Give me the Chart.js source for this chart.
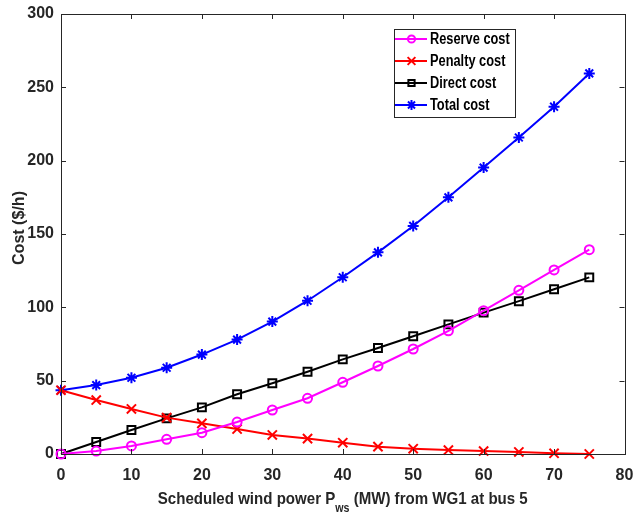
<!DOCTYPE html>
<html>
<head>
<meta charset="utf-8">
<script src="https://cdn.jsdelivr.net/npm/chart.js@4/dist/chart.umd.min.js"></script>
<style>
  html, body { margin: 0; padding: 0; background: #fff; }
  #wrap { width: 633px; height: 518px; }
</style>
</head>
<body>
<div id="wrap"><canvas id="c" width="633" height="518"></canvas></div>
<script>
// Scheduled wind power (MW)
const windPower = [0, 5, 10, 15, 20, 25, 30, 35, 40, 45, 50, 55, 60, 65, 70, 75];
// Cost components ($/h)
const reserveCost = [0, 2, 5.5, 10, 14.5, 21.8, 30, 38, 48.9, 60, 71.6, 84, 97.7, 111.6, 125.5, 139.3];
const penaltyCost = [43.5, 36.8, 30.7, 24.8, 20.9, 17, 13, 10.5, 7.7, 5, 3.6, 2.7, 2, 1.4, 0.5, 0];
const directCost = [0, 8.2, 16.4, 24.3, 31.8, 40.7, 48.2, 56.1, 64.5, 72.3, 80.3, 88.4, 96.4, 104.2, 112.3, 120.4];
const totalCost = [43.5, 47, 52, 58.8, 67.8, 78, 90.3, 104.5, 120.5, 137.5, 155.5, 175, 195.3, 215.8, 236.8, 259.5];
const seriesNames = ['Reserve cost', 'Penalty cost', 'Direct cost', 'Total cost'];
const xTicks = [0, 10, 20, 30, 40, 50, 60, 70, 80];
const yTicks = [0, 50, 100, 150, 200, 250, 300];

const FONT = '"Liberation Sans", Arial, sans-serif';
const TEXT = '#262626';

function series(values) {
  return values.map((v, i) => ({ x: windPower[i], y: v }));
}

const datasets = [
  { label: seriesNames[0], data: series(reserveCost), borderColor: '#ff00ff', pointStyle: 'circle', pointRadius: 4.5, legendRadius: 3.6 },
  { label: seriesNames[1], data: series(penaltyCost), borderColor: '#ff0000', pointStyle: 'crossRot', pointRadius: 6.5, legendRadius: 5.5 },
  { label: seriesNames[2], data: series(directCost), borderColor: '#000000', pointStyle: 'rect', pointRadius: 5.6, legendRadius: 4.4 },
  { label: seriesNames[3], data: series(totalCost), borderColor: '#0000ff', pointStyle: 'star', pointRadius: 5.5, legendRadius: 5 }
].map(d => Object.assign(d, {
  backgroundColor: 'rgba(0,0,0,0)',
  pointBackgroundColor: 'rgba(0,0,0,0)',
  pointBorderColor: d.borderColor,
  borderWidth: 2,
  pointBorderWidth: 2,
  tension: 0,
  clip: false
}));

// Draw a text run squeezed horizontally to a narrow face
function narrowText(ctx, text, x, y, sx) {
  ctx.save();
  ctx.translate(x, y);
  ctx.scale(sx, 1);
  ctx.fillText(text, 0, 0);
  ctx.restore();
}

// Box around the axes, inward tick marks, legend box and axis titles
const framePlugin = {
  id: 'frame',
  afterDatasetsDraw(chart) {
    const { ctx, chartArea: a, scales } = chart;
    const xs = scales.x, ys = scales.y;
    ctx.save();
    ctx.strokeStyle = TEXT;
    ctx.lineWidth = 1;
    ctx.strokeRect(Math.round(a.left) + 0.5, Math.round(a.top) + 0.5,
                   Math.round(a.right - a.left), Math.round(a.bottom - a.top));
    const tl = 5;
    ctx.beginPath();
    xTicks.forEach(v => {
      const px = Math.round(xs.getPixelForValue(v)) + 0.5;
      ctx.moveTo(px, a.bottom); ctx.lineTo(px, a.bottom - tl);
      ctx.moveTo(px, a.top); ctx.lineTo(px, a.top + tl);
    });
    yTicks.forEach(v => {
      const py = Math.round(ys.getPixelForValue(v)) + 0.5;
      ctx.moveTo(a.left, py); ctx.lineTo(a.left + tl, py);
      ctx.moveTo(a.right, py); ctx.lineTo(a.right - tl, py);
    });
    ctx.stroke();

    // legend
    const lx = 394, ly = 29, lw = 121, lh = 88;
    ctx.fillStyle = '#fff';
    ctx.fillRect(lx, ly, lw, lh);
    ctx.strokeStyle = TEXT;
    ctx.strokeRect(lx + 0.5, ly + 0.5, lw, lh);
    ctx.textBaseline = 'middle';
    ctx.textAlign = 'left';
    chart.data.datasets.forEach((ds, i) => {
      const y = ly + 10 + i * 22;
      ctx.strokeStyle = ds.borderColor;
      ctx.lineWidth = 2;
      ctx.beginPath();
      ctx.moveTo(lx + 1, y); ctx.lineTo(lx + 33, y);
      ctx.stroke();
      ctx.fillStyle = 'rgba(0,0,0,0)';
      Chart.helpers.drawPoint(ctx, {
        pointStyle: ds.pointStyle, radius: ds.legendRadius, rotation: 0,
        borderWidth: 2
      }, lx + 17.5, y);
      ctx.fillStyle = '#000';
      ctx.font = 'bold 16px ' + FONT;
      narrowText(ctx, ds.label, lx + 36, y + 1, 0.8);
    });

    // x-axis title with subscript
    const cx = (a.left + a.right) / 2;
    const parts = [
      { t: 'Scheduled wind power P', f: 'bold 17px ' + FONT, dy: 0 },
      { t: 'ws', f: 'bold 12px ' + FONT, dy: 8 },
      { t: ' (MW) from WG1 at bus 5', f: 'bold 17px ' + FONT, dy: 0 }
    ];
    const targetW = 370;
    let total = 0;
    parts.forEach(p => { ctx.font = p.f; p.w = ctx.measureText(p.t).width; total += p.w; });
    const sx = targetW / total;
    let x = cx - targetW / 2;
    ctx.fillStyle = TEXT;
    ctx.textBaseline = 'alphabetic';
    parts.forEach(p => { ctx.font = p.f; narrowText(ctx, p.t, x, 504 + p.dy, sx); x += p.w * sx; });

    // y-axis title
    ctx.save();
    ctx.translate(24, 228);
    ctx.rotate(-Math.PI / 2);
    ctx.font = 'bold 16px ' + FONT;
    const yw = ctx.measureText('Cost ($/h)').width;
    ctx.scale(74 / yw, 1);
    ctx.textAlign = 'center';
    ctx.fillText('Cost ($/h)', 0, 0);
    ctx.restore();
    ctx.restore();
  }
};

new Chart(document.getElementById('c'), {
  type: 'line',
  data: { datasets },
  options: {
    responsive: false,
    animation: false,
    events: [],
    layout: { padding: { top: 14, right: 7, left: 0, bottom: 0 } },
    plugins: { legend: { display: false }, tooltip: { enabled: false } },
    scales: {
      x: {
        type: 'linear', min: 0, max: 80,
        afterBuildTicks: s => { s.ticks = xTicks.map(v => ({ value: v })); },
        afterFit: s => { s.height = 64; s.paddingLeft = 0; s.paddingRight = 0; },
        grid: { display: false, drawTicks: false },
        border: { display: false },
        ticks: { color: TEXT, padding: 12, maxRotation: 0, font: { family: FONT, size: 16, weight: 'bold' } }
      },
      y: {
        type: 'linear', min: 0, max: 300,
        afterBuildTicks: s => { s.ticks = yTicks.map(v => ({ value: v })); },
        afterFit: s => { s.width = 61; s.paddingTop = 0; s.paddingBottom = 0; },
        grid: { display: false, drawTicks: false },
        border: { display: false },
        ticks: { color: TEXT, padding: 7, font: { family: FONT, size: 16, weight: 'bold' } }
      }
    }
  },
  plugins: [framePlugin]
});
</script>
</body>
</html>
